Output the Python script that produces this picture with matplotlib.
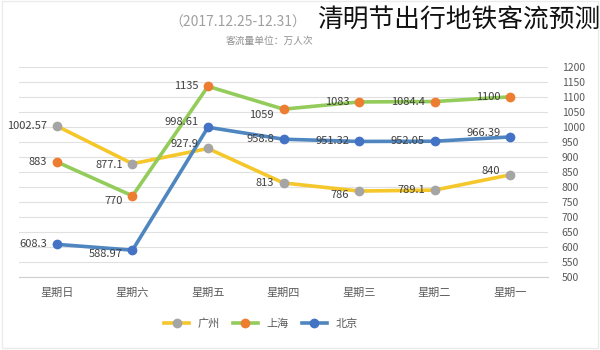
import matplotlib.pyplot as plt
import numpy as np

plt.rcParams['font.family'] = ['Noto Sans CJK SC', 'DejaVu Sans']

days = ['星期日', '星期六', '星期五', '星期四', '星期三', '星期二', '星期一']
beijing = [608.3, 588.97, 998.61, 958.8, 951.32, 952.05, 966.39]
shanghai = [883, 770, 1135, 1059, 1083, 1084.4, 1100]
guangzhou = [1002.57, 877.1, 927.9, 813, 786, 789.1, 840]

bj_lbl = ['608.3', '588.97', '998.61', '958.8', '951.32', '952.05', '966.39']
sh_lbl = ['883', '770', '1135', '1059', '1083', '1084.4', '1100']
gz_lbl = ['1002.57', '877.1', '927.9', '813', '786', '789.1', '840']

fig = plt.figure(figsize=(6, 3.5), dpi=100)
ax = fig.add_axes([0.032, 0.209, 0.881, 0.6])

x = np.arange(len(days))
ax.plot(x, guangzhou, color='#F5C72A', lw=2.6, marker='o', ms=6,
        mfc='#A5A5A5', mec='#A5A5A5', label='广州', zorder=3)
ax.plot(x, shanghai, color='#93CC5A', lw=2.6, marker='o', ms=6,
        mfc='#ED7D31', mec='#ED7D31', label='上海', zorder=3)
ax.plot(x, beijing, color='#4F86C0', lw=2.6, marker='o', ms=6,
        mfc='#4472C4', mec='#4472C4', label='北京', zorder=3)

# data labels, left of the points
offs_bj = [0, -3, 4, 0, 0, 0, 3]
offs_sh = [0, -4, 0, -4, 0, 0, 0]
offs_gz = [0, -1, 3, 0, -3, 0, 3]
for vals, labs, offs in [(beijing, bj_lbl, offs_bj), (shanghai, sh_lbl, offs_sh), (guangzhou, gz_lbl, offs_gz)]:
    for i in range(len(days)):
        ax.annotate(labs[i], (x[i], vals[i]), xytext=(-7, offs[i]), textcoords='offset points',
                    ha='right', va='center', fontsize=8, color='#404040', zorder=4)

ax.set_xlim(-0.5, 6.5)
ax.set_ylim(500, 1200)
ax.set_yticks(np.arange(500, 1201, 50))
ax.yaxis.tick_right()
ax.tick_params(axis='y', length=0, labelsize=7.5, labelcolor='#595959', pad=10)
ax.set_xticks(x)
ax.set_xticklabels(days)
ax.tick_params(axis='x', length=0, labelsize=8, labelcolor='#595959', pad=8)
ax.grid(axis='y', color='#E0E0E0', lw=0.8)
ax.set_axisbelow(True)
for s in ['top', 'left', 'right']:
    ax.spines[s].set_visible(False)
ax.spines['bottom'].set_color('#D0D0D0')

fig.legend(loc='center', bbox_to_anchor=(0.435, 0.075), ncol=3, frameon=False,
           fontsize=8, labelcolor='#595959', handlelength=2.2, columnspacing=1.2)

fig.text(0.283, 0.935, '（2017.12.25-12.31）', fontsize=10, color='#A0A0A0',
         ha='left', va='center')
fig.text(0.45, 0.882, '客流量单位：万人次', fontsize=7, color='#909090', ha='center', va='center')
fig.text(0.528, 0.94, '清明节出行地铁客流预测', fontsize=18.5, color='#111111', ha='left', va='center')

# faint frame round the whole picture
fig.patches.append(plt.Rectangle((0.003, 0.006), 0.993, 0.99, transform=fig.transFigure,
                                 fill=False, edgecolor='#EBEBEB', lw=1))

fig.savefig('out.png', dpi=100)
